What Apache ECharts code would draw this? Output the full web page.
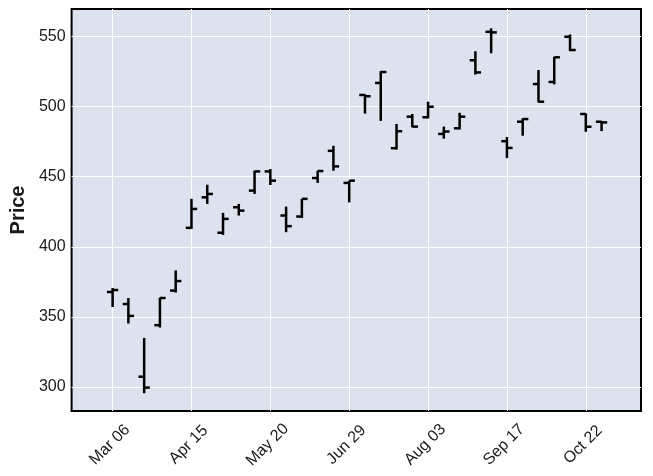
<!DOCTYPE html>
<html>
<head>
<meta charset="utf-8">
<script src="https://cdn.jsdelivr.net/npm/echarts@6/dist/echarts.min.js"></script>
<style>
html,body{margin:0;padding:0;background:#fff;}
#c{width:653px;height:476px;}
</style>
</head>
<body>
<div id="c"></div>
<script>
var dates = ['Mar 06','Mar 13','Mar 21','Mar 29','Apr 07','Apr 15','Apr 22','Apr 29','May 06','May 13',
             'May 20','May 28','Jun 05','Jun 13','Jun 21','Jun 29','Jul 06','Jul 13','Jul 20','Jul 27',
             'Aug 03','Aug 12','Aug 21','Aug 30','Sep 08','Sep 17','Sep 24','Oct 01','Oct 08','Oct 15',
             'Oct 22','Oct 29'];
var opens  = [367.7,359.1,307.2,344.0,368.7,413.5,435.3,410.0,428.2,440.1,
              453.8,422.3,421.6,449.1,468.5,445.6,508.4,517.0,470.4,492.9,
              492.5,480.6,484.6,533.2,553.5,475.4,489.3,516.2,517.7,550.0,
              494.8,489.3];
var highs  = [370.5,363.4,334.9,363.7,383.1,434.2,444.3,424.2,430.6,454.3,
              455.5,428.7,434.2,454.3,472.1,447.2,508.9,525.4,487.7,494.8,
              503.6,485.8,495.7,539.6,556.0,478.4,491.7,526.2,535.7,551.6,
              495.3,489.8];
var lows   = [357.0,345.2,295.4,342.3,367.3,412.8,430.6,408.5,422.3,437.7,
              444.1,410.4,420.6,445.6,454.3,431.7,495.1,489.9,469.4,485.3,
              491.7,477.2,483.8,523.0,538.2,463.3,479.3,503.1,516.0,539.7,
              482.1,482.6];
var closes = [369.1,350.6,299.4,363.4,375.5,427.0,437.7,419.9,425.8,453.8,
              447.2,414.7,434.2,454.1,457.4,447.2,507.5,524.8,482.5,485.8,
              500.0,482.3,492.9,524.5,553.1,470.6,491.2,503.6,535.3,540.5,
              485.7,488.8];
var xTicks = [0,5,10,15,20,25,30];
var yTicks = [300,350,400,450,500,550];

var data = dates.map(function(d,i){ return [i, opens[i], highs[i], lows[i], closes[i]]; });

var chart = echarts.init(document.getElementById('c'), null, {renderer:'canvas'});
var font = 'Liberation Sans';
chart.setOption({
  animation:false,
  backgroundColor:'#ffffff',
  grid:{left:67,right:12,top:9,bottom:65,show:true,backgroundColor:'#DCE3EF',borderColor:'#000',borderWidth:2},
  xAxis:{
    type:'value', min:-2.6, max:33.5, splitNumber:7,
    axisLine:{show:false},
    axisTick:{show:false, customValues:xTicks},
    axisLabel:{customValues:xTicks, rotate:45, align:'center', verticalAlign:'middle', margin:31,
      padding:[0,8,0,0],
      fontFamily:font, fontSize:16, color:'#1a1a1a',
      formatter:function(v){ return dates[Math.round(v)] || ''; }},
    splitLine:{show:true, lineStyle:{color:'#ffffff',width:1}}
  },
  yAxis:{
    type:'value', min:282.7, max:569.8,
    name:'Price', nameLocation:'middle', nameGap:43, nameRotate:90,
    nameTextStyle:{fontFamily:font, fontSize:20, fontWeight:'bold', color:'#1a1a1a'},
    axisLine:{show:false},
    axisTick:{show:false, customValues:yTicks},
    axisLabel:{customValues:yTicks, fontFamily:font, fontSize:16, color:'#1a1a1a', margin:6,
      formatter:function(v){ return String(Math.round(v)); }},
    splitLine:{show:true, lineStyle:{color:'#ffffff',width:1}}
  },
  series:[{
    type:'custom',
    data:data,
    encode:{x:0, y:[1,2,3,4]},
    clip:true,
    renderItem:function(params, api){
      var x = api.value(0);
      var o = api.coord([x, api.value(1)]);
      var h = api.coord([x, api.value(2)]);
      var l = api.coord([x, api.value(3)]);
      var c = api.coord([x, api.value(4)]);
      var w = api.size([1,0])[0]*0.36;
      var st = {stroke:'#000', lineWidth:2.5};
      return {type:'group', children:[
        {type:'line', shape:{x1:h[0],y1:h[1],x2:l[0],y2:l[1]}, style:st},
        {type:'line', shape:{x1:o[0]-w,y1:o[1],x2:o[0],y2:o[1]}, style:st},
        {type:'line', shape:{x1:c[0],y1:c[1],x2:c[0]+w,y2:c[1]}, style:st}
      ]};
    }
  }]
});
</script>
</body>
</html>
